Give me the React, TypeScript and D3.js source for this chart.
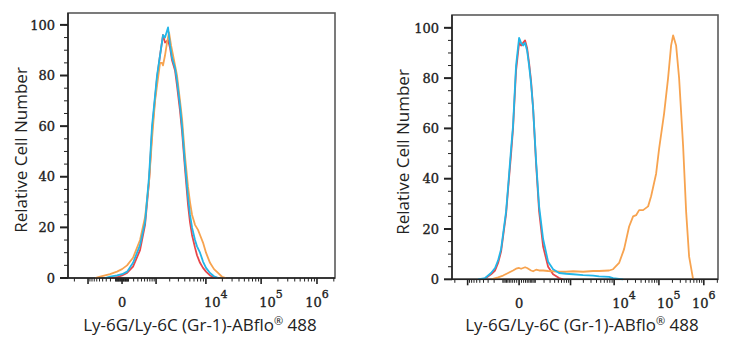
import React from 'react';
import * as d3 from 'd3';

// ---------- data (x = fluorescence intensity, y = relative cell number) ----------
const yMajorTicks = [0, 20, 40, 60, 80, 100];
const yMinorTicks = [5, 10, 15, 25, 30, 35, 45, 50, 55, 65, 70, 75, 85, 90, 95, 100];
const xLabelValues = [0, 1e4, 1e5, 1e6];
const xLabelExps = ['', '4', '5', '6'];
const yTitle = 'Relative Cell Number';
const xTitleMain = 'Ly-6G/Ly-6C (Gr-1)-ABflo';
const xTitleTail = ' 488';

const leftRed: [number, number][] = [
  [-209, 0], [-75, 0.3], [0, 1], [75, 2], [187, 4.5], [359, 11], [516, 21], [666, 38], [797, 58],
  [945, 71], [1053, 79], [1235, 88], [1440, 96], [1592, 93], [1844, 94], [2030, 91], [2233, 86],
  [2569, 82], [2817, 76], [3231, 66], [3535, 58], [4045, 43], [4617, 29], [5039, 22], [5504, 17],
  [6268, 12], [6831, 9], [7776, 6], [8839, 4], [10045, 2.5], [11900, 1], [14087, 0.3], [16677, 0],
];
const leftOrange: [number, number][] = [
  [-666, 0], [-481, 0.5], [-331, 1], [-209, 1.5], [-75, 2.5], [0, 3.5], [75, 5], [187, 8], [359, 15],
  [516, 24], [666, 38], [797, 55], [945, 70], [1053, 76], [1235, 85], [1369, 85], [1440, 84],
  [1592, 88], [1757, 93], [1935, 97], [2129, 92], [2340, 88], [2569, 84], [2817, 80], [3231, 70],
  [3535, 63], [4045, 48], [4617, 36], [5039, 30], [5504, 25], [6268, 21], [7136, 19], [7776, 17],
  [8839, 14], [10045, 10], [11900, 6], [14087, 3.5], [16677, 2], [19700, 0.5], [23280, 0],
];
const leftBlue: [number, number][] = [
  [-331, 0], [-209, 0.5], [-75, 1], [0, 1.5], [75, 2.5], [187, 6], [359, 13], [516, 22], [666, 40],
  [797, 60], [945, 72], [1053, 80], [1235, 88], [1440, 96], [1592, 95], [1844, 99], [2030, 92],
  [2233, 87], [2569, 83], [2817, 78], [3231, 68], [3535, 60], [4045, 45], [4617, 32], [5039, 25],
  [5504, 20], [6268, 15], [6831, 12.5], [7776, 10], [8839, 6.5], [10045, 4], [11900, 2],
  [14087, 0.7], [16677, 0],
];

const rightRed: [number, number][] = [
  [-387, 0], [-363, 0.3], [-247, 2], [-187, 3.5], [-149, 6.5], [-117, 11], [-98, 17], [-73, 26],
  [-58, 36], [-39, 50], [-28, 60], [-13, 83], [0, 94], [8.3, 93], [17.5, 94], [27.7, 95], [39, 92],
  [51.6, 86], [65, 79], [81, 68], [107, 46], [138, 27], [187, 13], [264, 5], [363, 2], [522, 0.5],
  [658, 0],
];
const rightOrange: [number, number][] = [
  [-247, 0], [-149, 0.8], [-98, 1.5], [-58, 2.5], [-28, 3.5], [-13, 4.2], [0, 4.5], [8.3, 4.2],
  [17.5, 4.5], [27.7, 4.8], [39, 4.5], [51.6, 4], [65, 3.5], [81, 3.2], [107, 3.8], [138, 3.5],
  [187, 3.5], [264, 3.3], [363, 3.2], [522, 3], [780, 3], [1150, 3.2], [1975, 3], [3350, 3.3],
  [4580, 3.3], [7700, 3.5], [9480, 4], [12910, 6.5], [16700, 12], [21640, 21], [26560, 25],
  [30990, 25.5], [36200, 27.5], [44400, 27.5], [57400, 29], [67000, 33], [86600, 42],
  [101000, 52], [130600, 66], [160000, 80], [187000, 93], [207000, 97], [241500, 93],
  [281700, 80], [346000, 53], [403500, 27], [470800, 9], [578000, 0],
];
const rightBlue: [number, number][] = [
  [-553, 0], [-363, 0.5], [-247, 2.5], [-187, 4.5], [-149, 7.5], [-117, 12], [-98, 18], [-73, 27],
  [-58, 37], [-39, 52], [-28, 61], [-13, 85], [0, 96], [8.3, 94], [17.5, 93], [27.7, 94], [39, 91],
  [51.6, 85], [65, 78], [81, 68], [107, 47], [138, 29], [187, 16], [264, 7], [363, 4], [522, 2.5],
  [780, 2.2], [1150, 2], [1975, 1.7], [3350, 1.5], [4580, 1.2], [7700, 1], [9480, 0.5], [15860, 0],
];

const RED = '#e8474a';
const ORANGE = '#f7a34f';
const BLUE = '#22b6e8';

type PanelCfg = {
  x0: number; x1: number; yTop: number; yBot: number; yMax: number;
  c: number; dom: [number, number]; titleX: number; titleY: number; xTitleCx: number;
  series: { data: [number, number][]; color: string }[];
};

function genXTicks(dom: [number, number]) {
  const out: { v: number; major: boolean }[] = [{ v: 0, major: true }];
  for (let n = 1; n <= 6; n++) {
    for (let k = 1; k <= 9; k++) {
      const v = k * Math.pow(10, n);
      const major = k === 1 && n >= 3;
      if (v <= dom[1]) out.push({ v, major });
      if (-v >= dom[0]) out.push({ v: -v, major });
    }
  }
  return out;
}

function Panel({ cfg }: { cfg: PanelCfg }) {
  const x = d3.scaleSymlog().constant(cfg.c).domain(cfg.dom).range([cfg.x0, cfg.x1]);
  const y = d3.scaleLinear().domain([0, cfg.yMax]).range([cfg.yBot, cfg.yTop]);
  const line = d3.line<[number, number]>().x(d => x(d[0])).y(d => y(d[1]));
  const xticks = genXTicks(cfg.dom);
  const serif = 'DejaVu Serif';
  return (
    <g>
      <rect x={cfg.x0} y={cfg.yTop} width={cfg.x1 - cfg.x0} height={cfg.yBot - cfg.yTop}
        fill="none" stroke="#5a5a5a" strokeWidth={1.6} />
      {cfg.series.map((s, i) => (
        <path key={i} d={line(s.data) || ''} fill="none" stroke={s.color} strokeWidth={1.8}
          strokeLinejoin="round" />
      ))}
      <line x1={cfg.x0} x2={cfg.x0} y1={cfg.yTop} y2={cfg.yBot} stroke="#222" strokeWidth={1.5} />
      <line x1={cfg.x0} x2={cfg.x1} y1={cfg.yBot} y2={cfg.yBot} stroke="#222" strokeWidth={1.5} />
      {yMinorTicks.map(t => (
        <line key={'ym' + t} x1={cfg.x0 - 4} x2={cfg.x0} y1={y(t)} y2={y(t)} stroke="#222" strokeWidth={1} />
      ))}
      {yMajorTicks.map(t => (
        <g key={'y' + t}>
          <line x1={cfg.x0 - 8} x2={cfg.x0} y1={y(t)} y2={y(t)} stroke="#222" strokeWidth={2} />
          <text x={cfg.x0 - 13} y={y(t)} dy="0.36em" textAnchor="end" fontFamily={serif}
            fontSize={13} fill="#222" stroke="#222" strokeWidth={0.35}>{t}</text>
        </g>
      ))}
      {xticks.map((t, i) => (
        <line key={'xt' + i} x1={x(t.v)} x2={x(t.v)} y1={cfg.yBot} y2={cfg.yBot + (t.major ? 6 : 3.5)}
          stroke="#222" strokeWidth={t.major ? 1.6 : 1} />
      ))}
      {xLabelValues.map((v, i) => {
        const px = x(v);
        const last = i === xLabelValues.length - 1;
        if (xLabelExps[i] === '') {
          return <text key={'xl' + i} x={px} y={cfg.yBot + 29} textAnchor="middle" fontFamily={serif}
            fontSize={13} fill="#222" stroke="#222" strokeWidth={0.35}>0</text>;
        }
        return (
          <text key={'xl' + i} x={last ? px : px - 2} y={cfg.yBot + 29} textAnchor={last ? 'middle' : 'start'}
            fontFamily={serif} fontSize={13} fill="#222" stroke="#222" strokeWidth={0.35}>
            10<tspan dy={-9} fontSize={11}>{xLabelExps[i]}</tspan>
          </text>
        );
      })}
      <text transform={`translate(${cfg.titleX},${cfg.titleY}) rotate(-90)`} textAnchor="middle"
        fontFamily="Open Sans" fontSize={17} fill="#222">{yTitle}</text>
      <text x={cfg.xTitleCx} y={331} textAnchor="middle" fontFamily="Open Sans" fontSize={17} fill="#222">
        {xTitleMain}<tspan dy={-6} fontSize={11}>®</tspan><tspan dy={6}>{xTitleTail}</tspan>
      </text>
    </g>
  );
}

export default function App() {
  const left: PanelCfg = {
    x0: 68, x1: 335, yTop: 13, yBot: 278, yMax: 104.7, c: 327, dom: [-2700, 2.1e6],
    titleX: 27, titleY: 150, xTitleCx: 200,
    series: [{ data: leftRed, color: RED }, { data: leftOrange, color: ORANGE }, { data: leftBlue, color: BLUE }],
  };
  const right: PanelCfg = {
    x0: 452, x1: 718, yTop: 15, yBot: 279.3, yMax: 105.1, c: 77, dom: [-2325, 2.07e6],
    titleX: 409, titleY: 152, xTitleCx: 582,
    series: [{ data: rightRed, color: RED }, { data: rightOrange, color: ORANGE }, { data: rightBlue, color: BLUE }],
  };
  return (
    <svg width={733} height={350} style={{ position: 'absolute', left: 0, top: 0, background: '#fff' }}>
      <rect width={733} height={350} fill="#fff" />
      <Panel cfg={left} />
      <Panel cfg={right} />
    </svg>
  );
}
